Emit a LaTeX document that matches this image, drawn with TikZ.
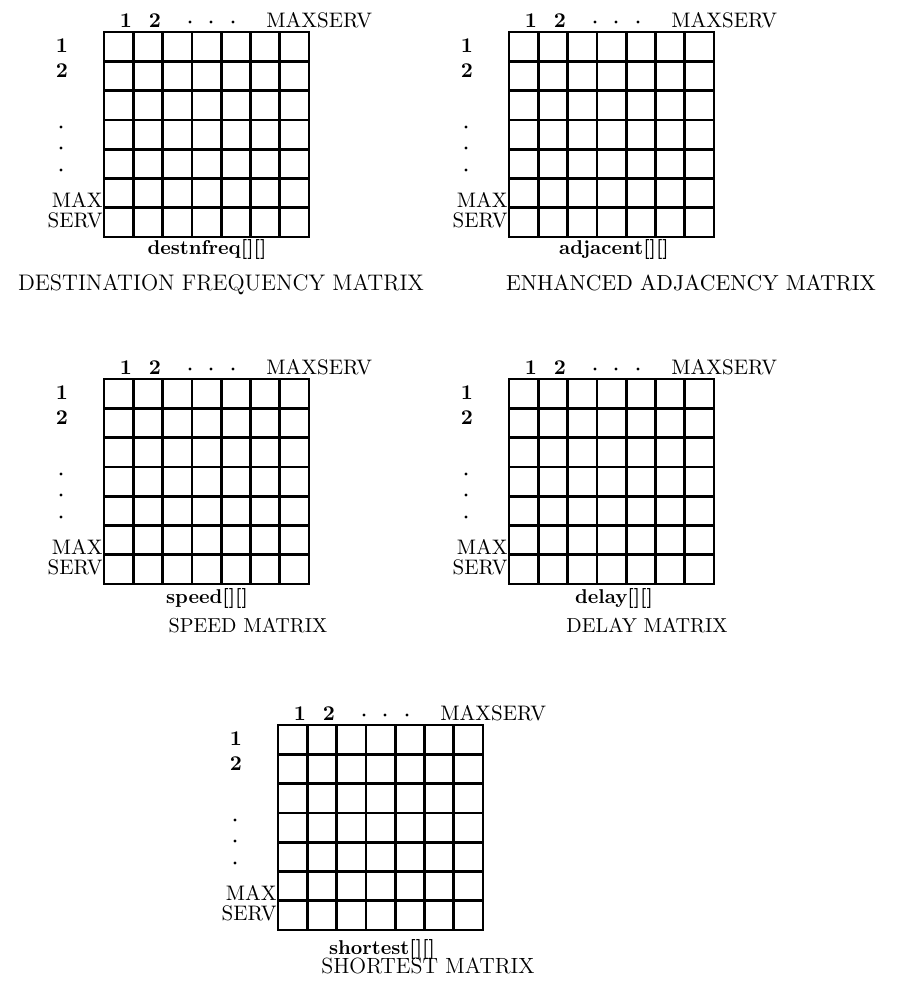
\documentclass[tikz,border=0pt]{standalone}
\usepackage{fontspec}
\begin{document}
\begin{tikzpicture}[x=0.5pt,y=-0.5pt]
\tikzset{
  gridline/.style={line width=1.35pt, line cap=rect},
  lab/.style={font=\fontsize{10.5}{12}\selectfont, inner sep=0pt},
  dig/.style={font=\fontsize{10.5}{12}\selectfont\bfseries, inner sep=0pt},
  arrname/.style={font=\fontsize{10}{12}\selectfont\bfseries, inner sep=0pt, anchor=base},
  ttl/.style={inner sep=0pt, anchor=base},
  dotmark/.style={fill=black}
}
\useasboundingbox (0,0) rectangle (900,982);
\newcommand\mblock[3]{%
  \begin{scope}[shift={(#2,#3)}]
    \foreach \i in {0,...,7}{
      \draw[gridline] ({\i*29.3},0) -- ({\i*29.3},205.1);
      \draw[gridline] (0,{\i*29.3}) -- (205.1,{\i*29.3});
    }
    \node[dig, anchor=base] (#1c1) at (22,-5) {1};
    \node[dig, anchor=base] (#1c2) at (51,-5) {2};
    \fill[dotmark] (86,-10) circle (0.85pt);
    \fill[dotmark] (107,-10) circle (0.85pt);
    \fill[dotmark] (129,-10) circle (0.85pt);
    \node[lab, anchor=base west] (#1ms) at (162,-5) {MAXSERV};
    \node[dig, anchor=base] (#1r1) at (-42,20) {1};
    \node[dig, anchor=base] (#1r2) at (-42,45) {2};
    \fill[dotmark] (-43,95) circle (0.85pt);
    \fill[dotmark] (-43,116) circle (0.85pt);
    \fill[dotmark] (-43,138) circle (0.85pt);
    \node[lab, anchor=base east] (#1max) at (-1,175) {MAX};
    \node[lab, anchor=base east] (#1serv) at (-1,195) {SERV};
  \end{scope}}
\mblock{a}{104}{32}
\mblock{b}{509}{32}
\mblock{c}{104}{379}
\mblock{d}{509}{379}
\mblock{e}{278}{725}
\node[arrname] (an) at (207,254) {destnfreq[][]};
\node[arrname] (bn) at (614,254) {adjacent[][]};
\node[arrname] (cn) at (207,603) {speed[][]};
\node[arrname] (dn) at (614,603) {delay[][]};
\node[arrname] (en) at (382,954) {shortest[][]};
\node[ttl, font=\fontsize{11.25}{13}\selectfont] (at) at (221,290) {DESTINATION FREQUENCY MATRIX};
\node[ttl, font=\fontsize{10.85}{13}\selectfont] (bt) at (691,290) {ENHANCED ADJACENCY MATRIX};
\node[ttl, font=\fontsize{10.1}{12}\selectfont] (ct) at (248,632) {SPEED MATRIX};
\node[ttl, font=\fontsize{10.1}{12}\selectfont] (dt) at (647,632) {DELAY MATRIX};
\node[ttl, font=\fontsize{11}{13}\selectfont] (et) at (428,973) {SHORTEST MATRIX};
\end{tikzpicture}
\end{document}
